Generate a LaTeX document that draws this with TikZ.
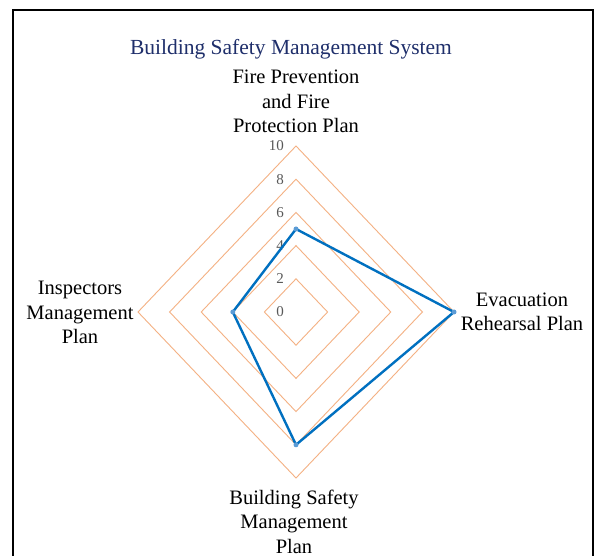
\documentclass[tikz,border=0pt]{standalone}
\usepackage{fontspec}
\setmainfont{Liberation Serif}
\definecolor{ringc}{HTML}{F4B183}
\definecolor{serc}{HTML}{0070C0}
\definecolor{mkc}{HTML}{5B9BD5}
\definecolor{titc}{HTML}{1F2F6B}
\definecolor{axc}{HTML}{595959}
\begin{document}
\begin{tikzpicture}[x=1pt,y=-1pt,
  ring/.style={draw=ringc,line width=0.9pt},
  series/.style={draw=serc,line width=2.4pt,line join=round},
  mk/.style={circle,fill=mkc,inner sep=0pt,minimum size=5pt},
  cat/.style={align=center,inner sep=0pt,font=\fontsize{20.5}{24.5}\selectfont,anchor=base},
  axl/.style={inner sep=0pt,anchor=east,text=axc,font=\fontsize{15}{15}\selectfont},
  frame/.style={draw=black,line width=2pt}]
\useasboundingbox (0,0) rectangle (595,556);
\fill[white] (0,0) rectangle (595,556);
\draw[frame] (13,560) -- (13,10) -- (593,10) -- (593,560);
\def\cx{296}\def\cy{312}\def\hr{15.8}\def\vr{16.6}
\foreach \r in {2,4,6,8,10}{
  \draw[ring] (\cx,\cy-\r*\vr) -- (\cx+\r*\hr,\cy) -- (\cx,\cy+\r*\vr) -- (\cx-\r*\hr,\cy) -- cycle;
}
\foreach \v in {0,2,4,6,8,10}{
  \node[axl] (ax\v) at (284,\cy-\v*\vr) {\v};
}
\coordinate (pt) at (\cx,\cy-5*\vr);
\coordinate (pr) at (\cx+10*\hr,\cy);
\coordinate (pb) at (\cx,\cy+8*\vr);
\coordinate (pl) at (\cx-4*\hr,\cy);
\draw[series] (pt) -- (pr) -- (pb) -- (pl) -- cycle;
\foreach \p in {pt,pr,pb,pl}{\node[mk] (m\p) at (\p) {};}
\node[inner sep=0pt,anchor=base,text=titc,font=\fontsize{21.5}{24}\selectfont] (title) at (291,55) {Building Safety Management System};
\node[cat] (ctop) at (296,133) {Fire Prevention\\and Fire\\Protection Plan};
\node[cat] (cright) at (522,331) {Evacuation\\Rehearsal Plan};
\node[cat] (cbot) at (294,553) {Building Safety\\Management\\Plan};
\node[cat] (cleft) at (80,344) {Inspectors\\Management\\Plan};
\end{tikzpicture}
\end{document}
